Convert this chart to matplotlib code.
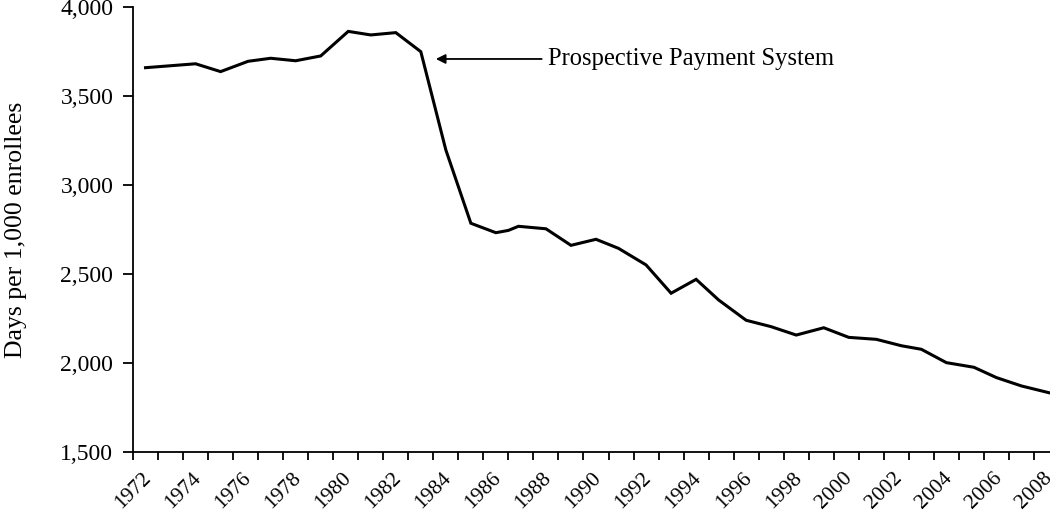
import matplotlib
matplotlib.use("Agg")
import matplotlib.pyplot as plt

# Data (mid-year positions, days per 1,000 enrollees)
years = [1972.5, 1974.5, 1975.5, 1976.6, 1977.5, 1978.5, 1979.5, 1980.6,
         1981.5, 1982.5, 1983.5, 1984.5, 1985.5, 1986.5, 1987.0, 1987.4,
         1988.5, 1989.5, 1990.5, 1991.4, 1992.5, 1993.5, 1994.5, 1995.4,
         1996.5, 1997.5, 1998.5, 1999.6, 2000.6, 2001.7, 2002.7, 2003.5,
         2004.5, 2005.6, 2006.5, 2007.5, 2008.6]
days = [3659, 3681, 3637, 3695, 3712, 3698, 3725, 3863,
        3843, 3856, 3749, 3197, 2785, 2732, 2745, 2768,
        2754, 2661, 2695, 2644, 2551, 2392, 2470, 2354,
        2240, 2204, 2157, 2198, 2144, 2133, 2097, 2077,
        2002, 1976, 1918, 1871, 1833]

tick_years = list(range(1972, 2009))
label_years = list(range(1972, 2009, 2))
y_ticks = [1500, 2000, 2500, 3000, 3500, 4000]

annot_text = "Prospective Payment System"
annot_tip = (1984.1, 3708)
annot_tail_year = 1988.33
annot_text_year = 1988.6

plt.rcParams['font.family'] = ['Liberation Serif', 'DejaVu Serif']

fig = plt.figure(figsize=(10.5, 5.11), dpi=100)
ax = fig.add_axes([133/1050, 1 - 452/511, 1 - 133/1050, (452 - 7)/511])

ax.plot(years, days, color='black', lw=2.2, solid_joinstyle='miter', clip_on=False)

ax.set_xlim(1972, 2008.64)
ax.set_ylim(1500, 4000)

ax.set_xticks(tick_years)
ax.set_xticklabels([str(y) if y in label_years else '' for y in tick_years],
                   rotation=45, ha='center', fontsize=15.5)
ax.set_yticks(y_ticks)
ax.set_yticklabels([f"{v:,}" for v in y_ticks], fontsize=17)

ax.tick_params(axis='x', direction='out', length=6, width=1.3, pad=6)
ax.tick_params(axis='y', direction='out', length=7.2, width=1.3, pad=7)

for s in ['top', 'right']:
    ax.spines[s].set_visible(False)
for s in ['left', 'bottom']:
    ax.spines[s].set_linewidth(1.3)

ax.set_ylabel("Days per 1,000 enrollees", fontsize=18.5, labelpad=24)

ax.annotate("", xy=annot_tip, xytext=(annot_tail_year, annot_tip[1]),
            arrowprops=dict(arrowstyle='-|>', color='black', lw=1.3,
                            mutation_scale=14, shrinkA=0, shrinkB=0))
ax.text(annot_text_year, annot_tip[1], annot_text, fontsize=17.7,
        va='center', ha='left')

fig.savefig("out.png", dpi=100)
